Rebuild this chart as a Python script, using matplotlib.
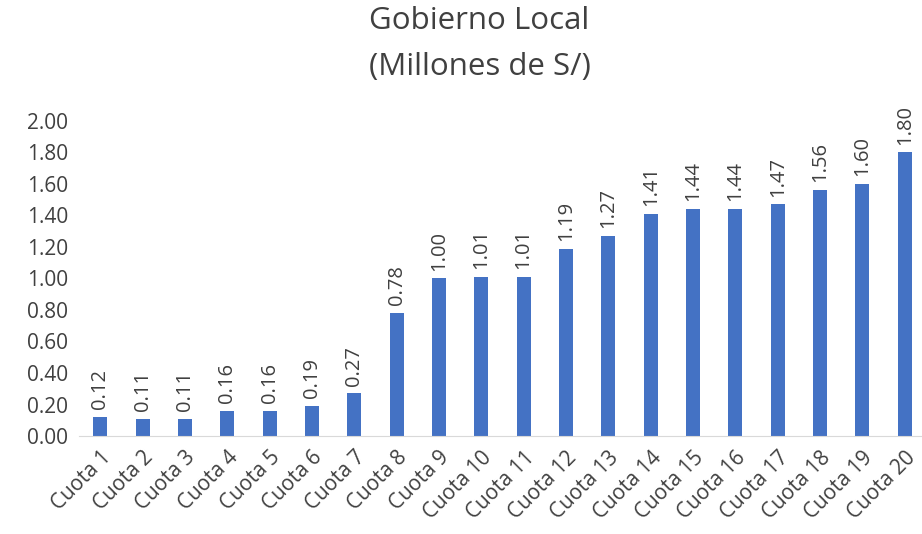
import matplotlib
matplotlib.use("Agg")
import matplotlib.pyplot as plt

categories = [f"Cuota {i}" for i in range(1, 21)]
values = [0.12, 0.11, 0.11, 0.16, 0.16, 0.19, 0.27, 0.78, 1.00, 1.01,
          1.01, 1.19, 1.27, 1.41, 1.44, 1.44, 1.47, 1.56, 1.60, 1.80]
yticks = [0.0, 0.2, 0.4, 0.6, 0.8, 1.0, 1.2, 1.4, 1.6, 1.8, 2.0]

plt.rcParams["font.family"] = ["Open Sans", "DejaVu Sans"]
text_color = "#404040"

fig = plt.figure(figsize=(9.22, 5.34), dpi=100)
ax = fig.add_axes([0.0857, 0.1835, 0.914, 0.590])

x = list(range(len(values)))
ax.bar(x, values, width=0.33, color="#4472C4")
for xi, v in zip(x, values):
    ax.text(xi, v + 0.05, f"{v:.2f}", rotation=90, ha="center", va="bottom",
            fontsize=14.5, color=text_color, clip_on=False)

ax.set_xlim(-0.5, 19.4)
ax.set_ylim(0, 2.0)
ax.set_yticks(yticks)
ax.set_yticklabels([f"{t:.2f}" for t in yticks], fontsize=15, color=text_color)
ax.set_xticks(x)
ax.set_xticklabels(categories, rotation=45, ha="right", rotation_mode="anchor",
                   fontsize=15, color=text_color)
ax.tick_params(axis="both", length=0)
ax.tick_params(axis="y", pad=8)
ax.tick_params(axis="x", pad=8)
for s in ["top", "right", "left"]:
    ax.spines[s].set_visible(False)
ax.spines["bottom"].set_color("#d9d9d9")

fig.text(0.52, 0.96, "Gobierno Local", ha="center", va="center",
         fontsize=22.5, color=text_color)
fig.text(0.52, 0.875, "(Millones de S/)", ha="center", va="center",
         fontsize=22.5, color=text_color)

fig.savefig("out.png", dpi=100)
